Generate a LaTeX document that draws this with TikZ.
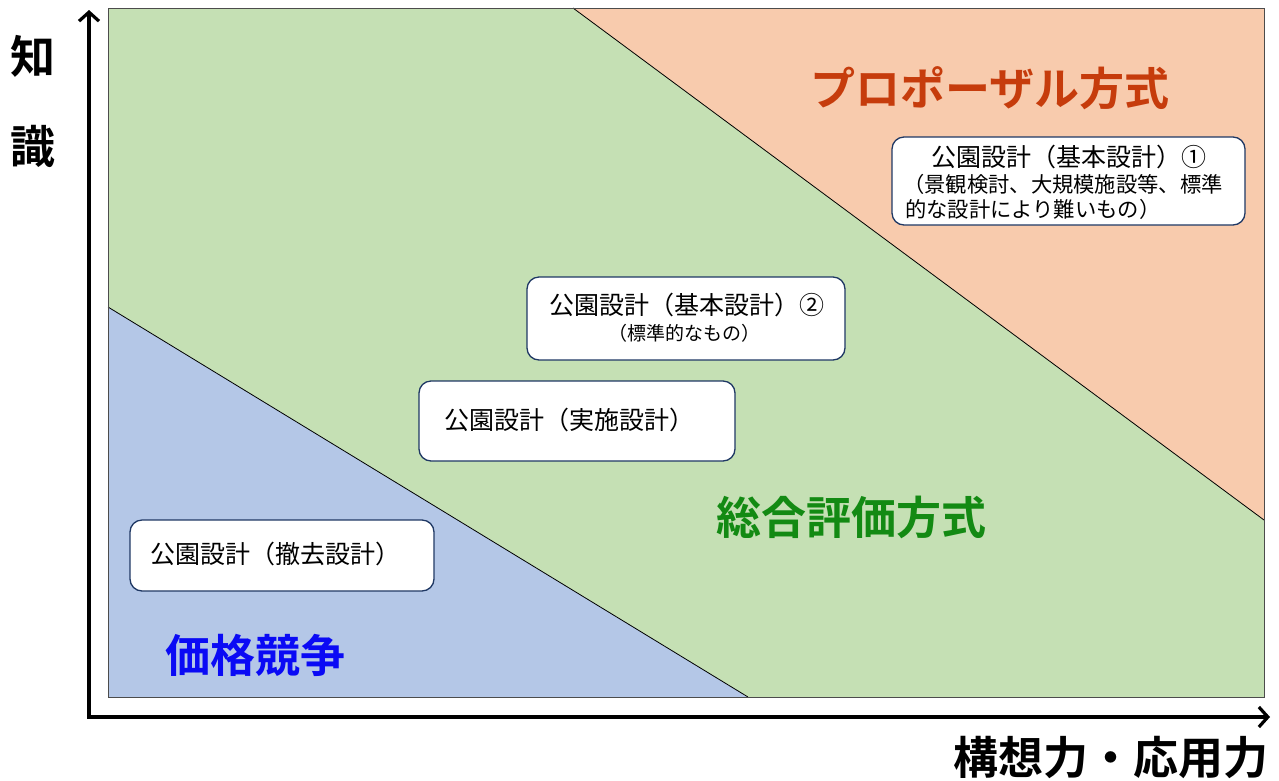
\documentclass[tikz,border=0pt]{standalone}
\usepackage{fontspec}
\setmainfont{Noto Sans CJK JP}
\newfontfamily\cjkb{Noto Sans CJK JP Bold}
\usetikzlibrary{arrows.meta}
\definecolor{gfill}{HTML}{C5E0B4}
\definecolor{ofill}{HTML}{F8CBAD}
\definecolor{bfill}{HTML}{B4C7E7}
\definecolor{tred}{HTML}{C63C0C}
\definecolor{tgreen}{HTML}{138A13}
\definecolor{tblue}{HTML}{0A0AF5}
\definecolor{bnavy}{HTML}{1F3864}
\tikzset{
  axisline/.style={line width=3.2pt, -{Straight Barb[length=9pt,width=20pt]}},
  itembox/.style={draw=bnavy, fill=white, line width=1.3pt, rounded corners=12pt, inner sep=0pt},
  bigtxt/.style={font=\cjkb\fontsize{45}{50}\selectfont, inner sep=0pt},
  maintxt/.style={font=\fontsize{25}{28}\selectfont, inner sep=0pt},
  subtxt/.style={font=\fontsize{21.3}{24}\selectfont, inner sep=0pt},
}
\begin{document}
\begin{tikzpicture}[x=1pt,y=-1pt]
\useasboundingbox (0,0) rectangle (1279,780);
% regions
\fill[gfill] (108,8) rectangle (1264,697);
\fill[ofill] (573,8) -- (1264,8) -- (1264,520) -- cycle;
\fill[bfill] (108,307) -- (748,697) -- (108,697) -- cycle;
\draw[black, line width=0.8pt] (573,8) -- (1264,520);
\draw[black, line width=0.8pt] (108,307) -- (748,697);
\draw[black!70, line width=0.8pt] (108,8) rectangle (1264,697);
% axes
\coordinate (o) at (89,717);
\coordinate (ytop) at (89,10);
\coordinate (xend) at (1270,717);
\draw[axisline] (o) -- (ytop);
\draw[axisline] ([xshift=-1.6pt]o) -- (xend);
% axis labels
\node[bigtxt] (k1) at (33,56) {知};
\node[bigtxt] (k2) at (33,146) {識};
\node[bigtxt, anchor=east] (xl) at (1269,757) {構想力・応用力};
% region labels
\node[bigtxt, text=tred] (prop) at (990,88) {プロポーザル方式};
\node[bigtxt, text=tgreen] (sogo) at (851,517) {総合評価方式};
\node[bigtxt, text=tblue] (kakaku) at (255,655) {価格競争};
% item boxes
\node[itembox, minimum width=353pt, minimum height=88pt] (b1) at (1068.5,181) {};
\node[maintxt] (b1a) at (1069,157) {公園設計（基本設計）①};
\node[subtxt, anchor=west] (b1b) at (903,184) {（景観検討、大規模施設等、標準};
\node[subtxt, anchor=west] (b1c) at (905,209) {的な設計により難いもの）};
\node[itembox, minimum width=318pt, minimum height=83pt] (b2) at (686,318.5) {};
\node[maintxt] (b2a) at (687,305) {公園設計（基本設計）②};
\node[font=\fontsize{19}{22}\selectfont, inner sep=0pt] (b2b) at (684,333) {（標準的なもの）};
\node[itembox, minimum width=316pt, minimum height=80pt] (b3) at (577,421) {};
\node[maintxt] (b3t) at (569,420) {公園設計（実施設計）};
\node[itembox, minimum width=304pt, minimum height=71pt] (b4) at (282,555.5) {};
\node[maintxt] (b4t) at (275,554) {公園設計（撤去設計）};
\end{tikzpicture}
\end{document}
